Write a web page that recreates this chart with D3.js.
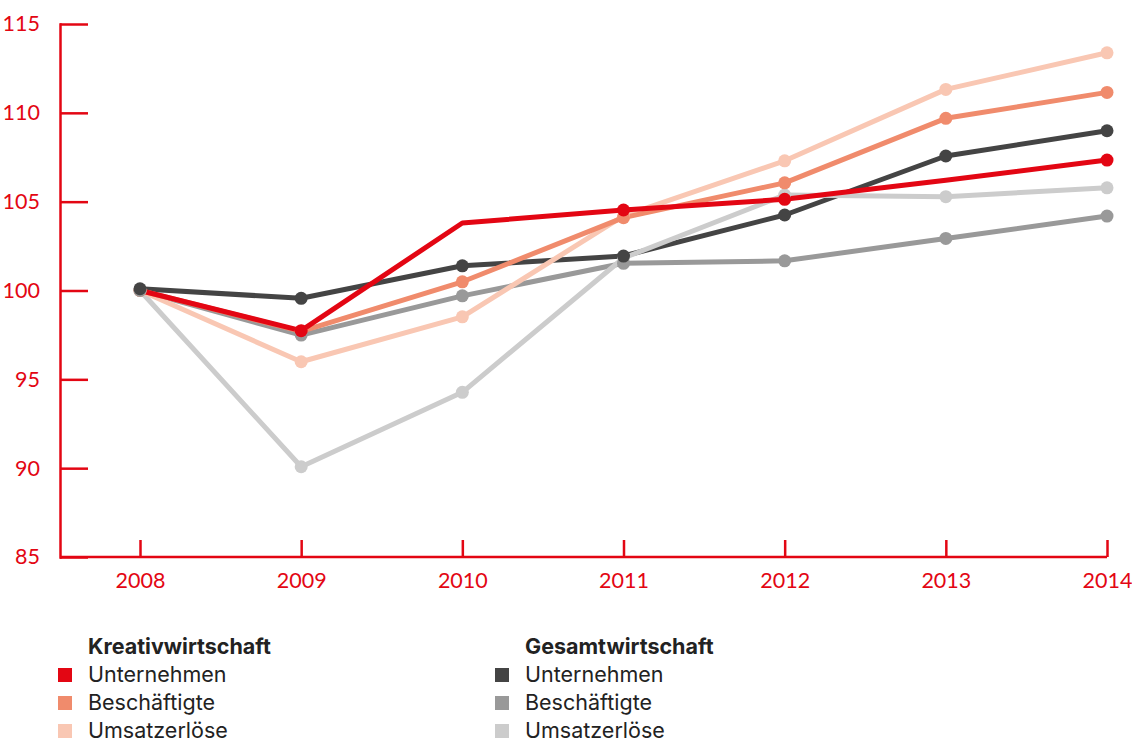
<!DOCTYPE html>
<html><head><meta charset="utf-8">
<script src="https://cdn.jsdelivr.net/npm/d3@7"></script>
<style>
html,body{margin:0;padding:0;background:#fff;}
svg{display:block;font-family:Lato,"Open Sans",sans-serif;}
</style></head>
<body>
<svg id="c" width="1132" height="745"></svg>
<script>
const years = [2008, 2009, 2010, 2011, 2012, 2013, 2014];
const yTicks = [85, 90, 95, 100, 105, 110, 115];

const kwUnternehmen   = [100, 97.74, 103.8, 104.53, 105.13, 106.2, 107.34];
const kwBeschaeftigte = [100, 97.7, 100.49, 104.1, 106.06, 109.69, 111.15];
const kwUmsatz        = [100, 95.99, 98.52, 104.2, 107.3, 111.32, 113.38];
const gwUnternehmen   = [100.1, 99.56, 101.39, 101.94, 104.25, 107.57, 108.99];
const gwBeschaeftigte = [100, 97.49, 99.7, 101.53, 101.67, 102.93, 104.19];
const gwUmsatz        = [100, 90.08, 94.27, 101.83, 105.37, 105.28, 105.78];

const groupNames = ["Kreativwirtschaft", "Gesamtwirtschaft"];
const seriesNames = ["Unternehmen", "Beschäftigte", "Umsatzerlöse"];

const RED = "#e30613";
const series = [
  {key:"gwU", group:1, idx:0, values:gwUnternehmen, color:"#444444"},
  {key:"gwB", group:1, idx:1, values:gwBeschaeftigte, color:"#999999"},
  {key:"gwS", group:1, idx:2, values:gwUmsatz, color:"#cccccc"},
  {key:"kwS", group:0, idx:2, values:kwUmsatz, color:"#f9c7b3"},
  {key:"kwB", group:0, idx:1, values:kwBeschaeftigte, color:"#f08b6c"},
  {key:"kwU", group:0, idx:0, values:kwUnternehmen, color:RED},
];
// years where the Kreativwirtschaft/Unternehmen line has no marker
const noMarker = {kwU:[2008, 2010, 2013]};
const dotOrder = ["gwS","kwS","kwB","gwB","kwU","gwU"];

const svg = d3.select("#c");
const x = d3.scalePoint().domain(years).range([140, 1107]);
const y = d3.scaleLinear().domain([85, 115]).range([557, 24]);
const X0 = 60;

// axes
const ay = svg.append("g").attr("transform", `translate(${X0},0)`)
  .call(d3.axisLeft(y).tickValues(yTicks).tickSize(-28).tickSizeOuter(0).tickPadding(20));
const ax = svg.append("g").attr("transform", `translate(0,${y(85)})`)
  .call(d3.axisBottom(x).tickSize(-17).tickSizeOuter(0).tickPadding(16));
ax.select(".domain").remove();
svg.append("line").attr("x1", X0).attr("x2", x(2014)).attr("y1", y(85)).attr("y2", y(85))
  .attr("stroke", RED).attr("stroke-width", 2.5);
[ay, ax].forEach(g => {
  g.selectAll("path,line").attr("stroke", RED).attr("stroke-width", 2.5);
  g.selectAll("text").attr("fill", RED).attr("font-size", 21.5).attr("font-family", "Lato,'Open Sans',sans-serif");
});
ay.select(".domain").attr("stroke-linecap", "square");

// lines
const line = d3.line().x((d, i) => x(years[i])).y(d => y(d));
series.forEach(s => {
  svg.append("path").datum(s.values).attr("d", line)
    .attr("fill", "none").attr("stroke", s.color).attr("stroke-width", 5)
    .attr("stroke-linejoin", "round").attr("stroke-linecap", "butt");
});
// dots
dotOrder.forEach(k => {
  const s = series.find(d => d.key === k);
  const skip = noMarker[k] || [];
  svg.append("g").selectAll("circle")
    .data(s.values.map((v, i) => ({v, yr: years[i]})).filter(d => !skip.includes(d.yr)))
    .join("circle")
    .attr("cx", d => x(d.yr)).attr("cy", d => y(d.v)).attr("r", 6.5)
    .attr("fill", s.color);
});

// legend
const legX = [58, 495];
groupNames.forEach((gname, gi) => {
  const g = svg.append("g").attr("transform", `translate(${legX[gi]},0)`)
    .attr("font-family", "Inter,'Open Sans',sans-serif");
  g.append("text").attr("x", 30).attr("y", 654).text(gname)
    .attr("font-size", 21.5).attr("font-weight", 700).attr("fill", "#222");
  seriesNames.forEach((sn, si) => {
    const s = series.find(d => d.group === gi && d.idx === si);
    g.append("rect").attr("x", 0).attr("y", 668 + si * 28).attr("width", 14).attr("height", 14)
      .attr("fill", s.color);
    g.append("text").attr("x", 30).attr("y", 682 + si * 28).text(sn)
      .attr("font-size", 21.5).attr("fill", "#222");
  });
});
</script>
</body></html>
